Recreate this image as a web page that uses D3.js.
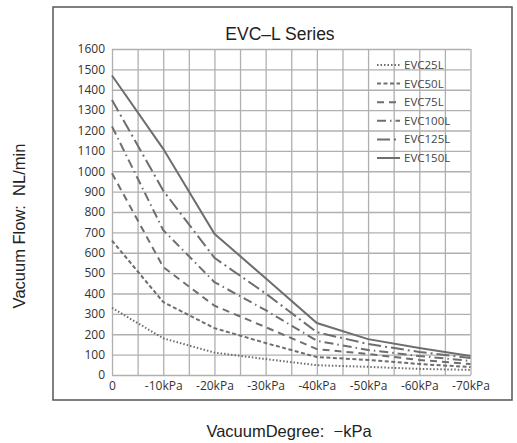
<!DOCTYPE html>
<html><head><meta charset="utf-8">
<script src="https://cdn.jsdelivr.net/npm/d3@7"></script>
<style>body{margin:0;background:#fff}svg{display:block}text{white-space:pre}</style>
</head><body>
<script>
const xValues = [0, -10, -20, -30, -40, -50, -60, -70];
const xTickLabels = ["0", "-10kPa", "-20kPa", "-30kPa", "-40kPa", "-50kPa", "-60kPa", "-70kPa"];
const yTicks = [0,100,200,300,400,500,600,700,800,900,1000,1100,1200,1300,1400,1500,1600];
const gridX = [0,-5,-10,-15,-20,-25,-30,-35,-40,-45,-50,-55,-60,-65,-70];
const seriesNames = ["EVC25L", "EVC50L", "EVC75L", "EVC100L", "EVC125L", "EVC150L"];
const evc25 = [330, 180, 110, 78, 48, 40, 30, 25];
const evc50 = [660, 358, 230, 157, 88, 74, 54, 39];
const evc75 = [990, 530, 340, 235, 127, 103, 74, 54];
const evc100 = [1220, 711, 456, 318, 168, 123, 93, 69];
const evc125 = [1350, 905, 575, 400, 210, 152, 113, 83];
const evc150 = [1470, 1110, 693, 475, 255, 176, 132, 93];
const seriesValues = [evc25, evc50, evc75, evc100, evc125, evc150];
const dashes = ["1.5,2", "4,2.5", "7,5", "9,4,1.5,4", "13,4,2,4", null];

const W = 517, H = 443;
const svg = d3.select("body").append("svg").attr("width", W).attr("height", H);
const color = "#6e6e6e";

const x = d3.scaleLinear().domain([0, -70]).range([112, 470.5]);
const y = d3.scaleLinear().domain([0, 1600]).range([375, 49]);

// frame
svg.append("rect").attr("x", 53).attr("y", 7).attr("width", 459).attr("height", 393)
  .attr("fill", "none").attr("stroke", "#555").attr("stroke-width", 1.5);

// grid
const xGrid = d3.axisBottom(x).tickValues(gridX).tickSize(-(y(0) - y(1600))).tickFormat("");
const xg = svg.append("g").attr("transform", `translate(0,${y(0)})`).call(xGrid);
const yGrid = d3.axisLeft(y).tickValues(yTicks).tickSize(-(x(-70) - x(0))).tickFormat("");
const yg = svg.append("g").attr("transform", `translate(${x(0)},0)`).call(yGrid);
[xg, yg].forEach(s => {
  s.select(".domain").remove();
  s.selectAll(".tick line").attr("stroke", "#b0b0b0").attr("stroke-width", 1.3);
});

// axes
const yAxis = d3.axisLeft(y).tickValues(yTicks).tickSize(0).tickPadding(7).tickFormat(d3.format("d"));
const ya = svg.append("g").attr("transform", `translate(${x(0)},0)`).call(yAxis);
ya.select(".domain").attr("stroke", "#b0b0b0");
ya.selectAll("text").attr("font-family", "Open Sans").attr("font-size", 12).attr("fill", "#333");

const xAxis = d3.axisBottom(x).tickValues(xValues).tickSize(0).tickPadding(6)
  .tickFormat((d, i) => xTickLabels[i]);
const xa = svg.append("g").attr("transform", `translate(0,${y(0)})`).call(xAxis);
xa.select(".domain").attr("stroke", "#b0b0b0");
xa.selectAll("text").attr("font-family", "Open Sans").attr("font-size", 12).attr("fill", "#333");

// lines
const line = d3.line().x((d, i) => x(xValues[i])).y(d => y(d));
seriesValues.forEach((vals, k) => {
  svg.append("path").datum(vals).attr("d", line)
    .attr("fill", "none").attr("stroke", color).attr("stroke-width", 2)
    .attr("stroke-dasharray", dashes[k]);
});

// legend
const lg = svg.append("g");
seriesNames.forEach((n, k) => {
  const yy = 65 + k * 18.6;
  lg.append("line").attr("x1", 377).attr("x2", 400).attr("y1", yy).attr("y2", yy)
    .attr("stroke", color).attr("stroke-width", 2).attr("stroke-dasharray", dashes[k]);
  lg.append("text").attr("x", 404).attr("y", yy + 4).text(n)
    .attr("font-family", "Open Sans").attr("font-size", 11.5).attr("fill", "#444");
});

// title
svg.append("text").attr("x", 280).attr("y", 40).attr("text-anchor", "middle")
  .attr("font-family", "Liberation Sans").attr("font-size", 17.5).attr("fill", "#222")
  .text("EVC–L Series");

// axis titles
svg.append("text").attr("transform", "translate(25,226) rotate(-90)").attr("text-anchor", "middle")
  .attr("font-family", "Liberation Sans").attr("font-size", 16.5).attr("fill", "#222")
  .text("Vacuum Flow:  NL/min");
svg.append("text").attr("x", 289).attr("y", 437).attr("text-anchor", "middle")
  .attr("font-family", "Liberation Sans").attr("font-size", 16.5).attr("fill", "#222")
  .text("VacuumDegree:  −kPa");
</script>
</body></html>
